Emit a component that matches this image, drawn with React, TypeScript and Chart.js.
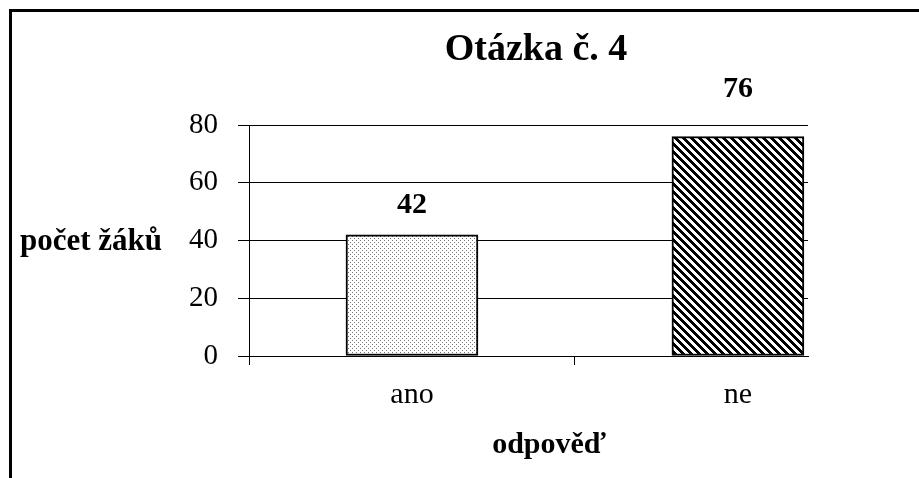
import React, { useEffect, useRef } from "react";
import { Chart, registerables } from "chart.js";

Chart.register(...registerables);

const categories = ["ano", "ne"];
const values = [42, 76];
const yTicks = [0, 20, 40, 60, 80];
const chartTitle = "Otázka č. 4";
const yTitle = "počet žáků";
const xTitle = "odpověď";

const FONT = '"Liberation Serif", "Times New Roman", serif';

function makeDotPattern(): CanvasPattern | string {
  const c = document.createElement("canvas");
  c.width = 4;
  c.height = 4;
  const g = c.getContext("2d");
  if (!g) return "#fff";
  g.fillStyle = "#fff";
  g.fillRect(0, 0, 4, 4);
  g.fillStyle = "#777";
  g.fillRect(0, 0, 1, 1);
  g.fillRect(2, 2, 1, 1);
  return g.createPattern(c, "repeat") || "#fff";
}

function makeStripePattern(): CanvasPattern | string {
  const n = 8;
  const c = document.createElement("canvas");
  c.width = n;
  c.height = n;
  const g = c.getContext("2d");
  if (!g) return "#000";
  g.fillStyle = "#fff";
  g.fillRect(0, 0, n, n);
  g.fillStyle = "#000";
  for (let y = 0; y < n; y++) {
    for (let x = 0; x < n; x++) {
      if ((((x - y) % n) + n) % n < 4) g.fillRect(x, y, 1, 1);
    }
  }
  return g.createPattern(c, "repeat") || "#000";
}

const textPlugin = {
  id: "texts",
  afterDraw(chart: any) {
    const { ctx } = chart;
    ctx.save();
    ctx.fillStyle = "#000";
    ctx.textBaseline = "middle";
    ctx.textAlign = "center";
    ctx.font = `bold 38px ${FONT}`;
    ctx.fillText(chartTitle, 536, 50);
    ctx.font = `bold 31px ${FONT}`;
    ctx.textAlign = "left";
    ctx.fillText(yTitle, 20, 242);
    ctx.font = `bold 30px ${FONT}`;
    ctx.textAlign = "center";
    ctx.fillText(xTitle, 549, 445);
    ctx.font = `bold 30px ${FONT}`;
    const meta = chart.getDatasetMeta(0);
    const offsets = [29, 47];
    meta.data.forEach((bar: any, i: number) => {
      ctx.fillText(String(values[i]), bar.x, bar.y - offsets[i]);
    });
    ctx.restore();
  },
};

export default function App() {
  const ref = useRef<HTMLCanvasElement | null>(null);
  useEffect(() => {
    if (!ref.current) return;
    const chart = new Chart(ref.current, {
      type: "bar",
      data: {
        datasets: [
          {
            data: values.map((v, i) => ({ x: i + 1, y: v })),
            backgroundColor: [makeDotPattern(), makeStripePattern()] as any,
            borderColor: "#000",
            borderWidth: 2,
            borderSkipped: false,
            barThickness: 132,
          },
        ],
      },
      plugins: [textPlugin],
      options: {
        animation: false,
        responsive: true,
        maintainAspectRatio: false,
        layout: { padding: { left: 0, top: 125, right: 111, bottom: 0 } },
        plugins: {
          legend: { display: false },
          tooltip: { enabled: false },
          title: { display: false },
        },
        scales: {
          x: {
            type: "linear",
            offset: false,
            min: 0.5,
            max: 2.215,
            afterBuildTicks: (scale: any) => {
              scale.ticks = [0.5, 1, 1.5, 2].map((v) => ({ value: v }));
            },
            afterFit: (scale: any) => {
              scale.height = 122;
            },
            ticks: {
              autoSkip: false,
              maxRotation: 0,
              padding: 12,
              color: "#000",
              font: { family: FONT, size: 30 },
              callback: (v: any) => {
                const idx = Number(v) - 1;
                return Number.isInteger(idx) && categories[idx] ? categories[idx] : "";
              },
            },
            grid: {
              offset: false,
              drawOnChartArea: false,
              drawTicks: true,
              tickLength: 9,
              color: (ctx: any) =>
                ctx.tick && Number.isInteger(ctx.tick.value) ? "rgba(0,0,0,0)" : "#000",
            },
            border: { display: true, color: "#000", width: 1 },
          },
          y: {
            min: 0,
            max: 80,
            afterBuildTicks: (scale: any) => {
              scale.ticks = yTicks.map((v) => ({ value: v }));
            },
            afterFit: (scale: any) => {
              scale.width = 249;
            },
            ticks: {
              padding: 20,
              color: "#000",
              font: { family: FONT, size: 29 },
            },
            grid: {
              color: "#000",
              lineWidth: 1,
              tickLength: 11,
            },
            border: { display: true, color: "#000", width: 1 },
          },
        },
      },
    });
    return () => chart.destroy();
  }, []);

  return (
    <>
      <div
        style={{
          position: "fixed",
          left: 9,
          top: 9,
          width: 1000,
          height: 600,
          border: "3px solid #000",
          boxSizing: "border-box",
        }}
      />
      <div style={{ position: "fixed", left: 0, top: 0, width: 919, height: 478 }}>
        <canvas ref={ref} />
      </div>
    </>
  );
}
